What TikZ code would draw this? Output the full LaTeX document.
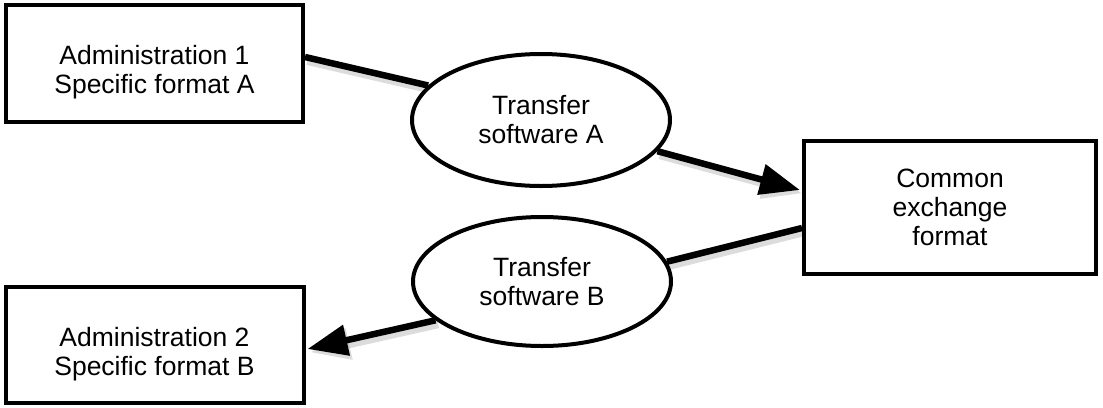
\documentclass[tikz,border=0pt]{standalone}
\usepackage{fontspec}
\setmainfont{Liberation Sans}
\usetikzlibrary{arrows.meta,shapes.geometric,backgrounds}

\tikzset{
  txt/.style={align=center, inner sep=0pt, font=\fontsize{26.5}{29}\selectfont},
  box/.style={draw=black, line width=4pt, rectangle, fill=white, txt},
  oval/.style={draw=black, line width=4pt, ellipse, fill=white, txt},
  conn/.style={line width=6.5pt, draw=black,
               preaction={draw=black!55, opacity=0.25, line width=9pt,
                          transform canvas={xshift=2.5pt,yshift=-3.5pt}}},
  tip/.style={-{Triangle[length=40pt,width=30pt]}}
}

\begin{document}
\begin{tikzpicture}[x=1pt,y=-1pt]
  \useasboundingbox (0,0) rectangle (1103,407);

  \node[box, minimum width=297pt, minimum height=117pt,
        label={[txt, yshift=-9pt]center:{Administration 1\\Specific format A}}]
        (a1) at (154.5,63.5) {};
  \node[oval, minimum width=258pt, minimum height=132pt] (ta) at (541,120) {Transfer\\software A};
  \node[box, minimum width=292pt, minimum height=133pt] (cf) at (950,207.5) {Common\\exchange\\format};
  \node[oval, minimum width=258pt, minimum height=129pt] (tb) at (542,281.5) {Transfer\\software B};
  \node[box, minimum width=298pt, minimum height=116pt,
        label={[txt, yshift=-9.5pt]center:{Administration 2\\Specific format B}}]
        (a2) at (154.5,345) {};

  % connectors run behind the shapes
  \begin{pgfonlayer}{background}
    \draw[conn] ([yshift=6.5pt]a1.east) -- (ta.163);
    \draw[conn,tip] (ta.-15) -- ([yshift=17.5pt,xshift=-2pt]cf.west);
    \draw[conn] ([yshift=-20.5pt]cf.west) -- (tb.9);
    \draw[conn,tip] (tb.200) -- ([yshift=-4pt,xshift=2pt]a2.east);
  \end{pgfonlayer}
\end{tikzpicture}
\end{document}
